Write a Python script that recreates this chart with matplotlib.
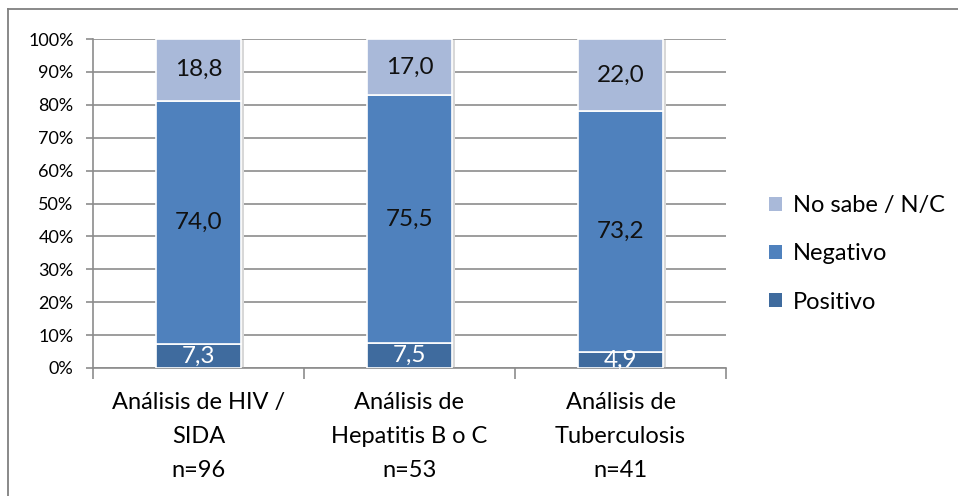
import numpy as np
import matplotlib
matplotlib.use("Agg")
import matplotlib.pyplot as plt
from matplotlib.lines import Line2D
from matplotlib.patches import Patch

plt.rcParams['font.family'] = ['Lato', 'DejaVu Sans']

categories = ["Análisis de HIV /\nSIDA\nn=96",
              "Análisis de\nHepatitis B o C\nn=53",
              "Análisis de\nTuberculosis\nn=41"]
positivo = [7.3, 7.5, 4.9]
negativo = [74.0, 75.5, 73.2]
no_sabe = [18.8, 17.0, 22.0]
series_names = ["Positivo", "Negativo", "No sabe / N/C"]
colors = ["#3F6B9E", "#4F81BD", "#A9B9D9"]
label_colors = ["white", "#111111", "#111111"]

fig = plt.figure(figsize=(9.58, 4.96), dpi=100)
ax = fig.add_axes([93 / 958, 1 - 368 / 496, (726 - 93) / 958, (368 - 39) / 496])

x = np.arange(len(categories))
bottom = np.zeros(len(categories))
for vals, col, lc, name in zip([positivo, negativo, no_sabe], colors, label_colors, series_names):
    vals = np.array(vals)
    # soft shadow behind bars
    ax.bar(x + 0.012, vals, 0.41, bottom=bottom - 0.4, color="#d8d8d8", zorder=2, linewidth=0)
    ax.bar(x, vals, 0.40, bottom=bottom, color=col, edgecolor="white", linewidth=1.2, zorder=3, label=name)
    for xi, b, v in zip(x, bottom, vals):
        ax.text(xi, b + v / 2, f"{v:.1f}".replace(".", ","), ha="center", va="center",
                fontsize=17.5, color=lc, zorder=4)
    bottom += vals

ax.set_xlim(-0.5, 2.5)
ax.set_ylim(0, 100)
ax.set_yticks(np.arange(0, 101, 10))
ax.set_yticklabels([f"{v}%" for v in range(0, 101, 10)], fontsize=13)
ax.yaxis.grid(True, color="#8c8c8c", linewidth=1.2, zorder=1)
ax.set_axisbelow(True)
ax.tick_params(axis="y", length=5, color="#8c8c8c", width=1.2, pad=9)

ax.set_xticks([-0.5, 0.5, 1.5, 2.5])
ax.set_xticklabels([])
ax.tick_params(axis="x", length=8, color="#8c8c8c", width=1.2)
ax.set_xticks(x, minor=True)
ax.set_xticklabels(categories, minor=True, fontsize=17, linespacing=1.75)
ax.tick_params(axis="x", which="minor", length=0, pad=17.5)

for s in ["top", "right"]:
    ax.spines[s].set_visible(False)
for s in ["left", "bottom"]:
    ax.spines[s].set_color("#8c8c8c")
    ax.spines[s].set_linewidth(1.2)

handles = [Patch(facecolor=c, edgecolor="none") for c in reversed(colors)]
fig.legend(handles, list(reversed(series_names)), loc="center left",
           bbox_to_anchor=(748 / 958, 1 - 254 / 496), frameon=False, fontsize=17,
           handlelength=0.55, handleheight=0.55, handletextpad=0.45, labelspacing=1.15)

# outer chart border (top and left visible)
fig.add_artist(Line2D([8 / 958, 1], [1 - 9 / 496, 1 - 9 / 496], color="#808080", linewidth=1.3))
fig.add_artist(Line2D([8 / 958, 8 / 958], [0, 1 - 9 / 496], color="#808080", linewidth=1.3))

fig.savefig("out.png", dpi=100, facecolor="white")
